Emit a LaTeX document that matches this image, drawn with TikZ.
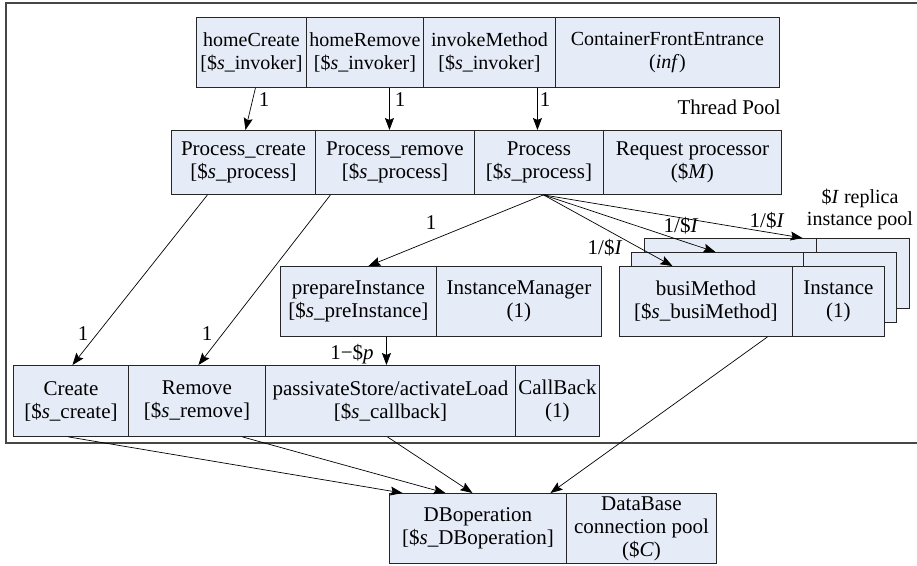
\documentclass[tikz,border=0pt]{standalone}
\usepackage{fontspec}
\setmainfont{Liberation Serif}
\usetikzlibrary{arrows.meta}
\definecolor{cellblue}{RGB}{229,235,247}
\definecolor{framecol}{RGB}{70,70,70}
\newcommand\myvar[1]{{[}\$\textit{s}\_#1]}
\begin{document}
\begin{tikzpicture}[x=1pt,y=-1pt,
  cell/.style={draw=black!85, fill=cellblue, line width=0.9pt, anchor=north west,
    inner sep=0pt, align=center, font=\fontsize{21}{23}\selectfont},
  lbl/.style={inner sep=0pt, font=\fontsize{21}{23}\selectfont},
  conn/.style={line width=0.7pt, -{Stealth[length=12pt,width=9pt,inset=2pt]}}]
\useasboundingbox (0,0) rectangle (917,565);
% outer frame
\draw[framecol, line width=1.3pt] (917,3) -- (6,3) -- (6,443) -- (917,443);
% row 1
\tikzset{row1/.style={cell, minimum height=70pt, font=\fontsize{20}{23}\selectfont}}
\node[row1, minimum width=110pt] (hc) at (196,17) {homeCreate\\\myvar{invoker}};
\node[row1, minimum width=117pt] (hr) at (306,17) {homeRemove\\\myvar{invoker}};
\node[row1, minimum width=132pt] (im) at (423,17) {invokeMethod\\\myvar{invoker}};
\node[row1, minimum width=224pt] (cfe) at (555,17) {ContainerFrontEntrance\\(\textit{inf})};
% row 2
\node[cell, minimum width=144pt, minimum height=64pt] (pc) at (171,130) {Process\_create\\\myvar{process}};
\node[cell, minimum width=159pt, minimum height=64pt] (pr) at (315,130) {Process\_remove\\\myvar{process}};
\node[cell, minimum width=129pt, minimum height=64pt] (pp) at (474,130) {Process\\\myvar{process}};
\node[cell, minimum width=178pt, minimum height=64pt] (rp) at (603,130) {Request processor\\(\$\textit{M})};
\node[lbl, anchor=east] (tp) at (781,107) {Thread Pool};
% row 3
\node[cell, minimum width=156pt, minimum height=70pt] (pi) at (280,266) {prepareInstance\\\myvar{preInstance}};
\node[cell, minimum width=165pt, minimum height=70pt] (imgr) at (436,266) {InstanceManager\\(1)};
% instance pool stack
\node[cell, minimum width=172pt, minimum height=70pt] (bb1) at (644,238) {};
\node[cell, minimum width=93pt, minimum height=70pt] (bb2) at (816,238) {};
\node[cell, minimum width=172pt, minimum height=70pt] (mb1) at (631,252) {};
\node[cell, minimum width=93pt, minimum height=70pt] (mb2) at (803,252) {};
\node[cell, minimum width=173pt, minimum height=70pt] (bm) at (619,266) {busiMethod\\\myvar{busiMethod}};
\node[cell, minimum width=92pt, minimum height=70pt] (inst) at (792,266) {Instance\\(1)};
\node[lbl, align=center, font=\fontsize{20}{22}\selectfont] (rep) at (860,209) {\$\textit{I} replica\\instance pool};
% row 4
\node[cell, minimum width=115pt, minimum height=71pt] (cr) at (13,365) {Create\\\myvar{create}};
\node[cell, minimum width=137pt, minimum height=71pt] (rm) at (128,365) {Remove\\\myvar{remove}};
\node[cell, minimum width=250pt, minimum height=71pt] (ps) at (265,365) {passivateStore/activateLoad\\\myvar{callback}};
\node[cell, minimum width=84pt, minimum height=71pt] (cb) at (515,365) {CallBack\\(1)};
% row 5
\node[cell, minimum width=177pt, minimum height=70pt] (db) at (389,493) {DBoperation\\\myvar{DBoperation}};
\node[cell, minimum width=150pt, minimum height=70pt] (dc) at (566,493) {DataBase\\connection pool\\(\$\textit{C})};
% connectors row1 -> row2
\draw[conn] ([xshift=4pt]hc.south) -- ([xshift=2pt]pc.north);
\draw[conn] ([xshift=24.5pt]hr.south) -- ([xshift=24.5pt]hr.south |- pr.north);
\draw[conn] ([xshift=48pt]im.south) -- ([xshift=48pt]im.south |- pp.north);
\node[lbl] (l1) at (264,100) {1};
\node[lbl] (l2) at (400,100) {1};
\node[lbl] (l3) at (545,100) {1};
% Process fan
\draw[conn] ([xshift=4.5pt]pp.south) -- ([xshift=10pt]pi.north);
\draw[conn] ([xshift=4.5pt]pp.south) -- ([xshift=-33.5pt]bm.north);
\draw[conn] ([xshift=4.5pt]pp.south) -- ([xshift=-2pt]mb1.north);
\draw[conn] ([xshift=4.5pt]pp.south) -- ([xshift=72pt]bb1.north);
\node[lbl] (l4) at (431,223) {1};
\node[lbl] (l5) at (605,248) {1/\$\textit{I}};
\node[lbl] (l6) at (681,226) {1/\$\textit{I}};
\node[lbl] (l7) at (767,221) {1/\$\textit{I}};
% row 2 -> row 4
\draw[conn] ([xshift=-36pt]pc.south) -- ([xshift=1.5pt]cr.north);
\draw[conn] ([xshift=-64.5pt]pr.south) -- ([xshift=1.5pt]rm.north);
\node[lbl] (l8) at (83,334) {1};
\node[lbl] (l9) at (207,334) {1};
% prepareInstance -> passivate
\draw[conn] ([xshift=28pt]pi.south) -- ([xshift=28pt]pi.south |- ps.north);
\node[lbl] (l10) at (352,354) {1−\$\textit{p}};
% row 4 -> DB
\draw[conn] ([xshift=-2.5pt]cr.south) -- ([xshift=-75.5pt]db.north);
\draw[conn] ([xshift=45.5pt]rm.south) -- ([xshift=-32.5pt]db.north);
\draw[conn] ([xshift=-3pt]ps.south) -- ([xshift=-5.5pt]db.north);
\draw[conn] ([xshift=61.5pt]bm.south) -- ([xshift=72.5pt]db.north);
\end{tikzpicture}
\end{document}
